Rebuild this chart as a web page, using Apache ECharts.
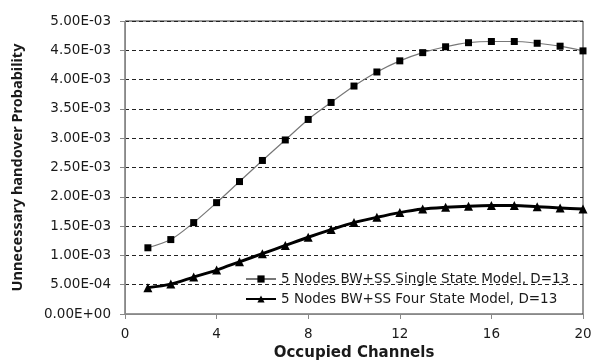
<!DOCTYPE html>
<html><head><meta charset="utf-8">
<script src="https://cdn.jsdelivr.net/npm/echarts@6/dist/echarts.min.js"></script>
<style>html,body{margin:0;padding:0;background:#fff}#c{width:595px;height:361px}</style>
</head><body><div id="c"></div>
<script>
const channels = [1,2,3,4,5,6,7,8,9,10,11,12,13,14,15,16,17,18,19,20];
const singleState = [1.13e-3,1.27e-3,1.56e-3,1.90e-3,2.26e-3,2.62e-3,2.97e-3,3.32e-3,3.61e-3,3.89e-3,4.13e-3,4.32e-3,4.46e-3,4.56e-3,4.63e-3,4.65e-3,4.65e-3,4.62e-3,4.57e-3,4.49e-3];
const fourState = [0.45e-3,0.51e-3,0.63e-3,0.75e-3,0.89e-3,1.03e-3,1.17e-3,1.31e-3,1.44e-3,1.56e-3,1.65e-3,1.73e-3,1.79e-3,1.82e-3,1.84e-3,1.85e-3,1.85e-3,1.83e-3,1.81e-3,1.79e-3];
const seriesNames = ['5 Nodes BW+SS Single State Model, D=13','5 Nodes BW+SS Four State Model, D=13'];
const FONT = 'DejaVu Sans';
function fmtE(v){
  if (v === 0) return '0.00E+00';
  const s = v.toExponential(2).toUpperCase();
  const m = s.match(/^(.*)E([+-])(\d+)$/);
  return m[1] + 'E' + m[2] + (m[3].length < 2 ? '0' + m[3] : m[3]);
}
const chart = echarts.init(document.getElementById('c'), null, {renderer:'canvas'});
chart.setOption({
  animation:false,
  backgroundColor:'#fff',
  textStyle:{fontFamily:FONT},
  grid:{left:125,right:12,top:21,bottom:47,show:true,borderColor:'#333',borderWidth:1,containLabel:false,outerBoundsMode:'none'},
  legend:{
    orient:'vertical',left:240,top:267,itemGap:6,itemWidth:30,itemHeight:9,
    textStyle:{fontFamily:FONT,fontSize:13.5,color:'#1a1a1a'},
    data:seriesNames
  },
  xAxis:{
    type:'value',min:0,max:20,interval:4,
    name:'Occupied Channels',nameLocation:'middle',nameGap:30,
    nameTextStyle:{fontFamily:FONT,fontSize:15,fontWeight:'bold',color:'#1a1a1a'},
    axisLine:{show:true,lineStyle:{color:'#888'}},
    axisTick:{show:true,inside:false,length:5,lineStyle:{color:'#888'}},
    axisLabel:{fontFamily:FONT,fontSize:13.5,color:'#1a1a1a',margin:13},
    splitLine:{show:false}
  },
  yAxis:{
    type:'value',min:0,max:0.005,interval:0.0005,
    name:'Unnecessary handover Probability',nameLocation:'middle',nameGap:100,
    nameTextStyle:{fontFamily:'Noto Sans',fontSize:14.5,fontWeight:'bold',color:'#1a1a1a'},
    axisLine:{show:true,lineStyle:{color:'#888'}},
    axisTick:{show:true,inside:false,length:5,lineStyle:{color:'#888'}},
    axisLabel:{fontFamily:FONT,fontSize:13.5,color:'#1a1a1a',margin:14,formatter:fmtE},
    splitLine:{show:true,lineStyle:{color:'#222',type:[4,3],width:1}}
  },
  series:[
    {name:seriesNames[0],type:'line',smooth:0.3,data:channels.map((c,i)=>[c,singleState[i]]),
     symbol:'rect',symbolSize:7,itemStyle:{color:'#000'},lineStyle:{color:'#777',width:1.2},z:3},
    {name:seriesNames[1],type:'line',smooth:0.3,data:channels.map((c,i)=>[c,fourState[i]]),
     symbol:'triangle',symbolSize:9,itemStyle:{color:'#000'},lineStyle:{color:'#000',width:3},z:4}
  ]
});
</script></body></html>
